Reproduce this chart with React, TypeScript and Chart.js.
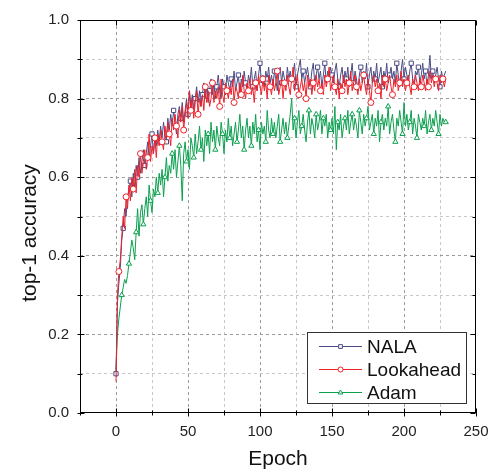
import React, { useEffect, useRef } from "react";
import { Chart, registerables } from "chart.js";

Chart.register(...registerables);

// top-1 accuracy per epoch (epoch = index)
const nala = [
  0.10, 0.28, 0.33, 0.37, 0.44, 0.47, 0.52, 0.50, 0.55, 0.57,
  0.59, 0.55, 0.61, 0.57, 0.63, 0.60, 0.65, 0.61, 0.64, 0.67,
  0.63, 0.66, 0.69, 0.65, 0.68, 0.71, 0.66, 0.70, 0.68, 0.72,
  0.69, 0.73, 0.70, 0.74, 0.71, 0.69, 0.75, 0.72, 0.76, 0.73,
  0.77, 0.74, 0.71, 0.76, 0.78, 0.75, 0.79, 0.74, 0.77, 0.80,
  0.76, 0.82, 0.78, 0.81, 0.77, 0.80, 0.83, 0.79, 0.82, 0.78,
  0.81, 0.84, 0.80, 0.83, 0.79, 0.82, 0.85, 0.81, 0.84, 0.80,
  0.83, 0.86, 0.82, 0.80, 0.85, 0.83, 0.81, 0.86, 0.84, 0.82,
  0.85, 0.83, 0.87, 0.82, 0.84, 0.86, 0.81, 0.85, 0.83, 0.87,
  0.84, 0.82, 0.86, 0.84, 0.88, 0.83, 0.85, 0.87, 0.82, 0.86,
  0.89, 0.84, 0.86, 0.83, 0.87, 0.85, 0.88, 0.84, 0.86, 0.83,
  0.87, 0.85, 0.82, 0.86, 0.88, 0.84, 0.87, 0.85, 0.83, 0.88,
  0.85, 0.87, 0.84, 0.86, 0.89, 0.83, 0.86, 0.88, 0.90, 0.85,
  0.87, 0.84, 0.86, 0.88, 0.85, 0.83, 0.87, 0.89, 0.84, 0.86,
  0.88, 0.85, 0.87, 0.83, 0.86, 0.89, 0.84, 0.87, 0.85, 0.88,
  0.86, 0.84, 0.87, 0.89, 0.85, 0.83, 0.86, 0.88, 0.84, 0.87,
  0.85, 0.88, 0.83, 0.86, 0.89, 0.84, 0.87, 0.85, 0.82, 0.86,
  0.88, 0.84, 0.87, 0.85, 0.89, 0.83, 0.86, 0.88, 0.84, 0.87,
  0.85, 0.89, 0.84, 0.86, 0.88, 0.83, 0.87, 0.85, 0.89, 0.84,
  0.86, 0.88, 0.85, 0.87, 0.84, 0.89, 0.86, 0.83, 0.87, 0.90,
  0.85, 0.88, 0.86, 0.84, 0.87, 0.89, 0.85, 0.83, 0.87, 0.86,
  0.88, 0.84, 0.86, 0.89, 0.85, 0.87, 0.83, 0.86, 0.91, 0.85,
  0.87, 0.84, 0.86, 0.88, 0.85, 0.83, 0.87, 0.85, 0.86, 0.87,
];

const lookahead = [
  0.08, 0.30, 0.36, 0.39, 0.45, 0.50, 0.47, 0.55, 0.52, 0.58,
  0.54, 0.60, 0.57, 0.62, 0.56, 0.63, 0.60, 0.66, 0.61, 0.64,
  0.67, 0.62, 0.65, 0.71, 0.64, 0.68, 0.66, 0.70, 0.65, 0.71,
  0.68, 0.72, 0.69, 0.67, 0.73, 0.70, 0.74, 0.71, 0.68, 0.75,
  0.72, 0.76, 0.73, 0.70, 0.77, 0.74, 0.78, 0.72, 0.76, 0.79,
  0.75, 0.82, 0.77, 0.80, 0.75, 0.79, 0.82, 0.76, 0.80, 0.78,
  0.81, 0.77, 0.83, 0.79, 0.82, 0.78, 0.80, 0.84, 0.79, 0.82,
  0.80, 0.83, 0.78, 0.85, 0.81, 0.79, 0.84, 0.82, 0.80, 0.83,
  0.81, 0.85, 0.79, 0.83, 0.82, 0.80, 0.84, 0.81, 0.86, 0.82,
  0.80, 0.84, 0.82, 0.85, 0.81, 0.83, 0.79, 0.84, 0.82, 0.86,
  0.83, 0.81, 0.85, 0.82, 0.84, 0.80, 0.86, 0.83, 0.81, 0.85,
  0.82, 0.84, 0.87, 0.81, 0.83, 0.85, 0.80, 0.84, 0.82, 0.86,
  0.83, 0.81, 0.85, 0.88, 0.82, 0.84, 0.86, 0.81, 0.83, 0.85,
  0.82, 0.84, 0.80, 0.86, 0.83, 0.85, 0.81, 0.84, 0.82, 0.86,
  0.83, 0.85, 0.82, 0.84, 0.81, 0.86, 0.83, 0.85, 0.88, 0.82,
  0.84, 0.86, 0.83, 0.81, 0.85, 0.80, 0.84, 0.82, 0.86, 0.83,
  0.85, 0.81, 0.84, 0.87, 0.82, 0.84, 0.86, 0.83, 0.81, 0.85,
  0.82, 0.84, 0.86, 0.83, 0.81, 0.85, 0.82, 0.79, 0.84, 0.86,
  0.83, 0.85, 0.82, 0.84, 0.80, 0.86, 0.83, 0.85, 0.82, 0.84,
  0.86, 0.83, 0.81, 0.85, 0.83, 0.86, 0.82, 0.84, 0.87, 0.83,
  0.85, 0.82, 0.84, 0.86, 0.83, 0.81, 0.85, 0.83, 0.86, 0.84,
  0.82, 0.85, 0.83, 0.86, 0.84, 0.82, 0.85, 0.83, 0.87, 0.84,
  0.86, 0.83, 0.85, 0.84, 0.82, 0.86, 0.84, 0.85, 0.83, 0.85,
];

const adam = [
  0.11, 0.20, 0.24, 0.27, 0.30, 0.32, 0.34, 0.33, 0.35, 0.38,
  0.41, 0.44, 0.42, 0.39, 0.46, 0.52, 0.45, 0.51, 0.53, 0.48,
  0.52, 0.55, 0.50, 0.58, 0.54, 0.51, 0.57, 0.55, 0.60, 0.56,
  0.61, 0.58, 0.62, 0.55, 0.60, 0.65, 0.59, 0.63, 0.61, 0.66,
  0.62, 0.67, 0.60, 0.64, 0.68, 0.63, 0.54, 0.66, 0.69, 0.64,
  0.67, 0.62, 0.70, 0.68, 0.65, 0.71, 0.66, 0.69, 0.73, 0.67,
  0.70, 0.64, 0.72, 0.68, 0.71, 0.66, 0.74, 0.69, 0.72, 0.67,
  0.73, 0.70, 0.68, 0.74, 0.71, 0.66, 0.72, 0.69, 0.75, 0.70,
  0.73, 0.68, 0.71, 0.74, 0.69, 0.72, 0.76, 0.70, 0.73, 0.67,
  0.72, 0.75, 0.70, 0.73, 0.68, 0.74, 0.71, 0.76, 0.69, 0.72,
  0.67, 0.74, 0.71, 0.73, 0.69, 0.77, 0.72, 0.70, 0.75, 0.71,
  0.74, 0.70, 0.73, 0.76, 0.69, 0.72, 0.75, 0.71, 0.74, 0.70,
  0.73, 0.76, 0.80, 0.72, 0.75, 0.70, 0.74, 0.77, 0.71, 0.73,
  0.76, 0.72, 0.69, 0.74, 0.77, 0.71, 0.75, 0.73, 0.70, 0.76,
  0.72, 0.74, 0.77, 0.71, 0.75, 0.73, 0.76, 0.70, 0.74, 0.72,
  0.75, 0.71, 0.78, 0.67, 0.74, 0.72, 0.76, 0.70, 0.73, 0.75,
  0.72, 0.77, 0.71, 0.74, 0.76, 0.72, 0.75, 0.73, 0.70, 0.77,
  0.74, 0.71, 0.76, 0.73, 0.75, 0.78, 0.72, 0.74, 0.76, 0.71,
  0.75, 0.73, 0.77, 0.69, 0.74, 0.76, 0.72, 0.75, 0.73, 0.78,
  0.71, 0.74, 0.76, 0.72, 0.69, 0.75, 0.73, 0.77, 0.74, 0.71,
  0.79, 0.73, 0.76, 0.72, 0.74, 0.77, 0.71, 0.75, 0.73, 0.70,
  0.76, 0.74, 0.72, 0.75, 0.73, 0.77, 0.71, 0.74, 0.76, 0.72,
  0.75, 0.73, 0.77, 0.74, 0.71, 0.76, 0.73, 0.75, 0.74, 0.74,
];

const seriesNames = ["NALA", "Lookahead", "Adam"];
const seriesColors = ["#4b4b85", "#ee2028", "#0aa04e"];
const seriesMarkers = ["rect", "circle", "triangle"];
const xLabelTicks = [0, 50, 100, 150, 200, 250];
const yLabelTicks = [0, 0.2, 0.4, 0.6, 0.8, 1.0];
const xTitle = "Epoch";
const yTitle = "top-1 accuracy";

const FONT = "'Liberation Sans', Arial, sans-serif";

function drawMarker(ctx: CanvasRenderingContext2D, style: string, x: number, y: number, r: number) {
  ctx.beginPath();
  if (style === "rect") {
    ctx.rect(x - r * 0.75, y - r * 0.75, r * 1.5, r * 1.5);
  } else if (style === "circle") {
    ctx.arc(x, y, r, 0, Math.PI * 2);
  } else {
    ctx.moveTo(x, y - r);
    ctx.lineTo(x + r * 0.9, y + r * 0.6);
    ctx.lineTo(x - r * 0.9, y + r * 0.6);
    ctx.closePath();
  }
  ctx.fill();
  ctx.stroke();
}

const framePlugin = {
  id: "frameAndLegend",
  afterDatasetsDraw(chart: any) {
    const { ctx, chartArea, scales } = chart;
    const { left, right, top, bottom } = chartArea;
    const xs = scales.x;
    const ys = scales.y;
    ctx.save();
    ctx.strokeStyle = "#000";
    ctx.lineWidth = 1;
    const L = Math.round(left) + 0.5;
    const R = Math.round(right) - 0.5;
    const T = Math.round(top) + 0.5;
    const B = Math.round(bottom) - 0.5;
    ctx.strokeRect(L, T, R - L, B - T);
    ctx.beginPath();
    for (let v = -25; v <= 250; v += 25) {
      const px = Math.round(xs.getPixelForValue(v)) + 0.5;
      const major = v % 50 === 0;
      ctx.moveTo(px, B + (major ? 4 : 3));
      ctx.lineTo(px, B - (major ? 4 : 2));
      ctx.moveTo(px, T);
      ctx.lineTo(px, T + (major ? 5 : 3));
    }
    for (let i = 0; i <= 10; i++) {
      const v = i / 10;
      const py = Math.round(ys.getPixelForValue(v)) + 0.5;
      const major = i % 2 === 0;
      ctx.moveTo(L - 3, py);
      ctx.lineTo(L + (major ? 4 : 2), py);
      ctx.moveTo(R, py);
      ctx.lineTo(R - (major ? 5 : 3), py);
    }
    ctx.stroke();

    // y-axis title
    ctx.save();
    ctx.translate(30, 233);
    ctx.rotate(-Math.PI / 2);
    ctx.fillStyle = "#111";
    ctx.font = `21px ${FONT}`;
    ctx.textAlign = "center";
    ctx.textBaseline = "middle";
    ctx.fillText(yTitle, 0, 0);
    ctx.restore();

    // legend
    const bx = 307.5, by = 332.5, bw = 159, bh = 71;
    ctx.fillStyle = "#fff";
    ctx.fillRect(bx, by, bw, bh);
    ctx.strokeStyle = "#333";
    ctx.strokeRect(bx, by, bw, bh);
    const rows = [346.5, 369.5, 392.5];
    chart.data.datasets.forEach((ds: any, i: number) => {
      const y = rows[i];
      ctx.strokeStyle = ds.borderColor;
      ctx.lineWidth = 1.2;
      ctx.beginPath();
      ctx.moveTo(319, y);
      ctx.lineTo(362, y);
      ctx.stroke();
      ctx.fillStyle = "#fff";
      ctx.lineWidth = 1;
      drawMarker(ctx, seriesMarkers[i], 340.5, y, 2.5);
      ctx.fillStyle = "#111";
      ctx.font = `19px ${FONT}`;
      ctx.textBaseline = "middle";
      ctx.textAlign = "left";
      ctx.fillText(ds.label, 367, y + 1);
    });
    ctx.restore();
  },
};

export default function App() {
  const ref = useRef<HTMLCanvasElement | null>(null);
  useEffect(() => {
    if (!ref.current) return;
    const arrays = [nala, lookahead, adam];
    const offsets = [0, 2, 4];
    const datasets = arrays.map((arr, k) => ({
      label: seriesNames[k],
      data: arr.map((v, i) => ({ x: i, y: v })),
      borderColor: seriesColors[k],
      backgroundColor: "#fff",
      borderWidth: 1,
      pointStyle: seriesMarkers[k],
      pointRadius: (c: any) => (c.dataIndex % 5 === offsets[k] ? 3 : 0),
      pointBorderWidth: 1,
      pointBackgroundColor: "#fff",
      pointBorderColor: seriesColors[k],
      order: [1, 0, 2][k],
      tension: 0,
    }));
    const chart = new Chart(ref.current, {
      type: "line",
      data: { datasets },
      options: {
        animation: false,
        responsive: false,
        layout: { padding: { top: 17, right: 27, left: 0, bottom: 0 } },
        plugins: { legend: { display: false }, tooltip: { enabled: false } },
        scales: {
          x: {
            type: "linear",
            min: -25,
            max: 250,
            afterFit: (s: any) => { s.height = 59; },
            ticks: {
              stepSize: 25,
              autoSkip: false,
              maxRotation: 0,
              padding: 10,
              color: "#222",
              font: { family: FONT, size: 15 },
              callback: (v: any) => (xLabelTicks.includes(Number(v)) ? String(v) : ""),
            },
            grid: {
              drawTicks: false,
              color: (c: any) => {
                const v = c.tick ? c.tick.value : 0;
                if (v <= -25 || v >= 250) return "rgba(0,0,0,0)";
                return v % 50 === 0 ? "#9a9a9a" : "#c8c8c8";
              },
              lineWidth: 1,
            },
            border: { display: false, dash: [3, 3] },
            title: {
              display: true,
              text: xTitle,
              color: "#111",
              font: { family: FONT, size: 21 },
              padding: { top: 0, bottom: 0 },
            },
          },
          y: {
            type: "linear",
            min: 0,
            max: 1,
            afterFit: (s: any) => { s.width = 80; },
            ticks: {
              stepSize: 0.1,
              autoSkip: false,
              padding: 11,
              color: "#222",
              font: { family: FONT, size: 15 },
              callback: (v: any) => {
                const n = Number(v);
                return yLabelTicks.some((t) => Math.abs(t - n) < 1e-6) ? n.toFixed(1) : "";
              },
            },
            grid: {
              drawTicks: false,
              color: (c: any) => {
                const v = c.tick ? c.tick.value : 0;
                if (v <= 0.001 || v >= 0.999) return "rgba(0,0,0,0)";
                return Math.round(v * 10) % 2 === 0 ? "#9a9a9a" : "#c8c8c8";
              },
              lineWidth: 1,
            },
            border: { display: false, dash: [3, 3] },
          },
        },
      },
      plugins: [framePlugin],
    } as any);
    return () => chart.destroy();
  }, []);
  return (
    <div style={{ position: "absolute", left: 0, top: 0, width: 503, height: 472, background: "#fff" }}>
      <canvas ref={ref} width={503} height={472} style={{ width: 503, height: 472 }} />
    </div>
  );
}
